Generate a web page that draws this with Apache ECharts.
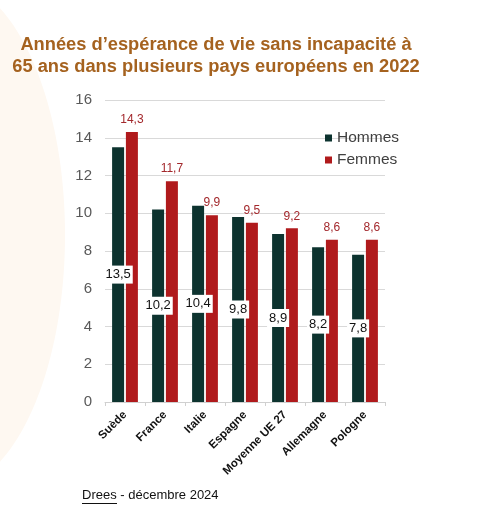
<!DOCTYPE html>
<html><head><meta charset="utf-8">
<script src="https://cdn.jsdelivr.net/npm/echarts@6/dist/echarts.min.js"></script>
<style>html,body{margin:0;padding:0;background:#fff}#c{width:483px;height:528px}</style>
</head><body><div id="c"></div>
<script>
var categories = ['Suède','France','Italie','Espagne','Moyenne UE 27','Allemagne','Pologne'];
var hommes = [13.5, 10.2, 10.4, 9.8, 8.9, 8.2, 7.8];
var femmes = [14.3, 11.7, 9.9, 9.5, 9.2, 8.6, 8.6];
var yTicks = {min: 0, max: 16, interval: 2};
var fmt = function(p){ return String(p.value).replace('.', ','); };
var chart = echarts.init(document.getElementById('c'));
chart.setOption({
  backgroundColor: '#fff',
  animation: false,
  graphic: [
    {type:'ellipse', z:-10, shape:{cx:-55, cy:235, rx:120, ry:255}, style:{fill:'#fef8f1'}},
    {type:'text', left:82, top:489, style:{text:'Drees - décembre 2024', font:'13px "Liberation Sans", Arial', fill:'#111'}},
    {type:'line', shape:{x1:82, y1:503.5, x2:117, y2:503.5}, style:{stroke:'#111', lineWidth:1}}
  ],
  title: {
    text: 'Années d\u2019espérance de vie sans incapacité à\n65 ans dans plusieurs pays européens en 2022',
    left: 211, top: 29, textAlign: 'center',
    textStyle: {fontFamily:'"Liberation Sans", Arial', fontWeight:'bold', fontSize:18.3, color:'#a5621f', lineHeight:22}
  },
  legend: {
    orient: 'vertical', left: 320, top: 125, itemWidth: 7, itemHeight: 7, itemGap: 6,
    icon: 'rect',
    textStyle: {fontFamily:'"Liberation Sans", Arial', fontSize:15.5, color:'#404040'},
    data: ['Hommes','Femmes']
  },
  grid: {left: 105, right: 98, top: 100, bottom: 126},
  xAxis: {
    type: 'category', data: categories,
    axisLine: {lineStyle: {color:'#d0d0d0'}},
    axisTick: {show: true, lineStyle: {color:'#d0d0d0'}, length: 4},
    axisLabel: {rotate: 45, interval: 0, fontFamily:'"Liberation Sans", Arial', fontWeight:'bold', fontSize:11.5, color:'#111', margin: 11}
  },
  yAxis: {
    type: 'value', min: yTicks.min, max: yTicks.max, interval: yTicks.interval,
    axisLine: {show:false}, axisTick: {show:false},
    axisLabel: {fontFamily:'"Liberation Sans", Arial', fontSize:15, color:'#595959', margin: 13},
    splitLine: {lineStyle: {color:'#d9d9d9'}}
  },
  series: [
    {name:'Hommes', type:'bar', data: hommes, barWidth: 12, barGap: '15%',
     itemStyle: {color:'#0d332f'},
     label: {show:true, position:'inside', formatter: fmt, fontFamily:'"Liberation Sans", Arial', fontSize:13, color:'#111', backgroundColor:'#fff', padding:[3,2,2,2]}},
    {name:'Femmes', type:'bar', data: femmes, barWidth: 12,
     itemStyle: {color:'#b01a1c'},
     label: {show:true, position:'top', distance: 6, formatter: fmt, fontFamily:'"Liberation Sans", Arial', fontSize:12, color:'#a3282c'}}
  ]
});
</script></body></html>
